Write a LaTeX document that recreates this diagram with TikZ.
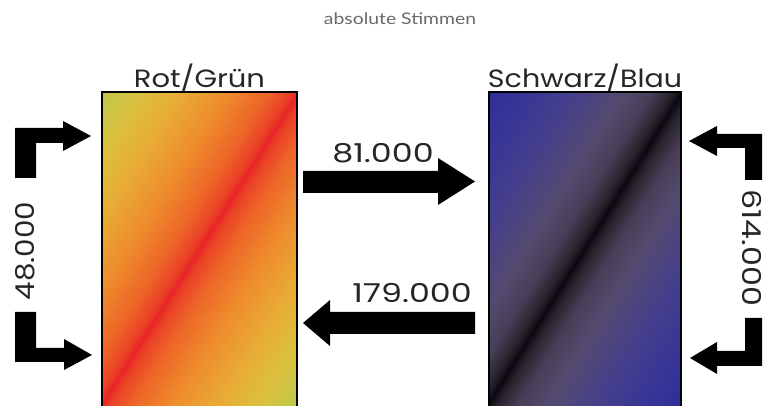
\documentclass[tikz,border=0pt]{standalone}
\usepackage{graphicx}
\usepackage{fontspec}
\setmainfont{Poppins}
\newfontfamily\subfont{Lato}
\newcommand\wider[2]{\scalebox{#1}[1]{#2}}
\definecolor{rg0}{RGB}{232,36,40}
\definecolor{rg1}{RGB}{234,62,38}
\definecolor{rg2}{RGB}{237,100,40}
\definecolor{rg3}{RGB}{238,140,44}
\definecolor{rg4}{RGB}{232,172,54}
\definecolor{rg5}{RGB}{218,193,64}
\definecolor{rg6}{RGB}{190,200,72}
\definecolor{sb0}{RGB}{12,8,16}
\definecolor{sb1}{RGB}{40,34,44}
\definecolor{sb2}{RGB}{72,62,86}
\definecolor{sb3}{RGB}{84,74,112}
\definecolor{sb4}{RGB}{70,64,138}
\definecolor{sb5}{RGB}{56,54,150}
\definecolor{sb6}{RGB}{46,46,154}
\definecolor{subgray}{RGB}{105,105,105}
\pgfdeclareverticalshading{rgshade}{100bp}{color(0bp)=(rg6); color(25.74bp)=(rg6); color(30.15bp)=(rg5); color(35.3bp)=(rg4); color(41.18bp)=(rg3); color(46.32bp)=(rg2); color(49.12bp)=(rg1); color(50bp)=(rg0); color(50.88bp)=(rg1); color(53.68bp)=(rg2); color(58.82bp)=(rg3); color(64.7bp)=(rg4); color(69.85bp)=(rg5); color(74.26bp)=(rg6); color(100bp)=(rg6)}
\pgfdeclareverticalshading{sbshade}{100bp}{color(0bp)=(sb6); color(25.74bp)=(sb6); color(30.88bp)=(sb5); color(36.76bp)=(sb4); color(42.65bp)=(sb3); color(46.32bp)=(sb2); color(48.82bp)=(sb1); color(50bp)=(sb0); color(51.18bp)=(sb1); color(53.68bp)=(sb2); color(57.35bp)=(sb3); color(63.24bp)=(sb4); color(69.12bp)=(sb5); color(74.26bp)=(sb6); color(100bp)=(sb6)}
\tikzset{
  panel/.style={inner sep=0pt, outer sep=0pt, minimum width=#1, minimum height=322pt},
  border/.style={draw=black, line width=2.6pt},
  lbl/.style={font=\fontsize{25}{30}\selectfont, text=black!85, inner sep=0pt, anchor=base},
  num/.style={font=\fontsize{26}{30}\selectfont, text=black!85, inner sep=0pt},
  blk/.style={fill=black},
  subt/.style={font=\subfont\fontsize{16}{18}\selectfont, text=subgray, inner sep=0pt, anchor=base}
}
\begin{document}
\begin{tikzpicture}[x=1pt,y=1pt]
\useasboundingbox[fill=white] (0,0) rectangle (767,406);
% panels
\node[panel=195pt] (rg) at (199.5,153) {};
\node[panel=192pt] (sb) at (585,153) {};
% shadings
\begin{scope}
  \clip (rg.south west) rectangle (rg.north east);
  \begin{scope}[overlay, transform canvas={shift={(199.5,157)}, rotate=57.76}]
    \shade[shading=rgshade] (-300,-170) rectangle (300,170);
  \end{scope}
\end{scope}
\begin{scope}
  \clip (sb.south west) rectangle (sb.north east);
  \begin{scope}[overlay, transform canvas={shift={(585,158)}, rotate=58.16}]
    \shade[shading=sbshade] (-300,-170) rectangle (300,170);
  \end{scope}
\end{scope}
\draw[border] (rg.south west) rectangle (rg.north east);
\draw[border] (sb.south west) rectangle (sb.north east);
% labels
\node[lbl] (rgl) at ([yshift=4pt]rg.north) {\wider{1.16}{Rot/Grün}};
\node[lbl] (sbl) at ([yshift=4pt]sb.north) {\wider{1.14}{Schwarz/Blau}};
\node[subt] (sub) at (400,381) {\wider{1.21}{absolute Stimmen}};
% middle arrows
\fill[blk] (303,213) -- (438,213) -- (438,201) -- (475,224.5) -- (438,248) -- (438,235) -- (303,235) -- cycle;
\fill[blk] (475,72) -- (330,72) -- (330,60) -- (303,83) -- (330,106) -- (330,94) -- (475,94) -- cycle;
\node[num, anchor=base] (n81) at (383,243) {\wider{1.28}{81.000}};
\node[num, anchor=base] (n179) at (412,103) {\wider{1.28}{179.000}};
% left L arrows
\fill[blk] (15,228) -- (15,278) -- (63,278) -- (63,285) -- (91,270) -- (63,255) -- (63,263) -- (36,263) -- (36,228) -- cycle;
\fill[blk] (15,94) -- (36,94) -- (36,58) -- (64,58) -- (64,67) -- (92,51) -- (64,36) -- (64,44) -- (15,44) -- cycle;
\node[num, rotate=90] (n48) at (25,155) {\wider{1.13}{48.000}};
% right L arrows
\fill[blk] (762,226) -- (762,272) -- (717,272) -- (717,280) -- (689,265) -- (717,250) -- (717,258) -- (745,258) -- (745,226) -- cycle;
\fill[blk] (745,88) -- (762,88) -- (762,40) -- (717,40) -- (717,32) -- (690,48) -- (717,64) -- (717,55) -- (745,55) -- cycle;
\node[num, rotate=-90] (n614) at (752,158) {\wider{1.22}{614.000}};
\end{tikzpicture}
\end{document}
